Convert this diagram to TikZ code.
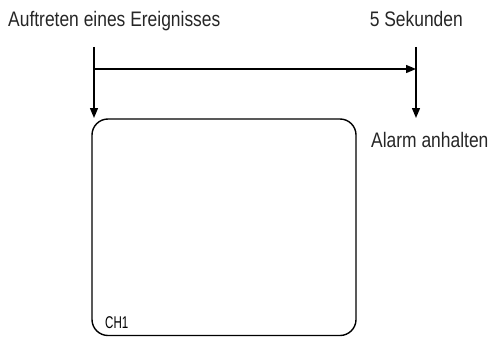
\documentclass[tikz,border=0pt]{standalone}
\usepackage{fontspec}
\setmainfont{Liberation Sans}
\newfontfamily\narrowfont[FakeStretch=0.83]{Liberation Sans}
\newfontfamily\chfont[FakeStretch=0.68]{Liberation Sans}
\usetikzlibrary{arrows.meta}
\begin{document}
\begin{tikzpicture}[x=1pt,y=-1pt,
  lbl/.style={inner sep=0pt,font=\narrowfont\fontsize{21}{23}\selectfont,text=black!85},
  conn/.style={line width=1.4pt,-{Triangle[length=10pt,width=8pt]}},
  screen/.style={draw,line width=1.4pt,rounded corners=16pt}]
\useasboundingbox (0,0) rectangle (492,337);
\node[lbl,anchor=base west] (ev) at (8,27) {Auftreten eines Ereignisses};
\node[lbl,anchor=base east] (sec) at (463,27) {5 Sekunden};
\node[lbl,anchor=base west] (stop) at (371,147) {Alarm anhalten};
\coordinate (l0) at (94,47);
\coordinate (r0) at (416,47);
\coordinate (lh) at (94,69);
\coordinate (rh) at (416,69);
\coordinate (l1) at (94,118);
\coordinate (r1) at (416,118);
\draw[screen] (92,119) rectangle (356,335.5);
\node[inner sep=0pt,anchor=base west,font=\chfont\fontsize{17}{19}\selectfont] (ch) at (105,328.5) {CH1};
\draw[conn] (l0) -- (l1);
\draw[conn] (r0) -- (r1);
\draw[conn] (lh) -- (rh);
\end{tikzpicture}
\end{document}
